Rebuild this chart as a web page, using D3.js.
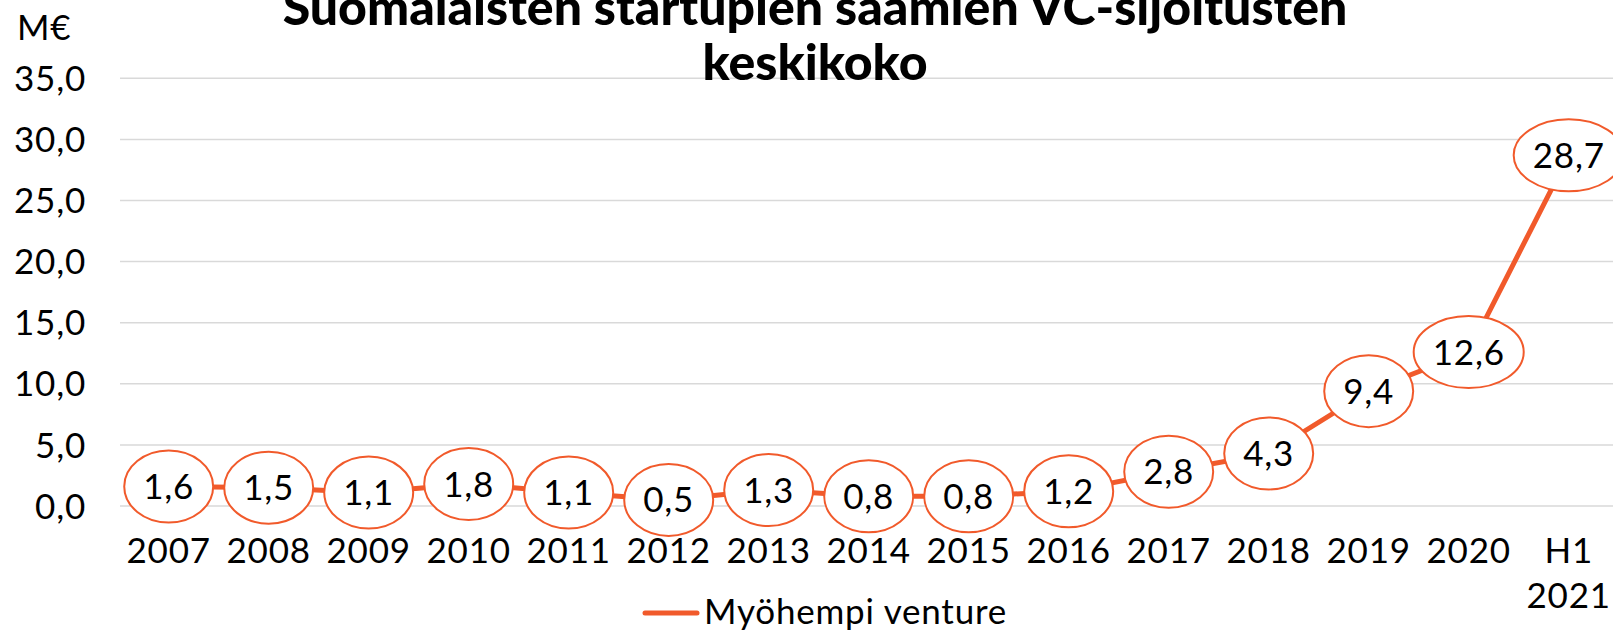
<!DOCTYPE html>
<html>
<head>
<meta charset="utf-8">
<script src="https://cdn.jsdelivr.net/npm/d3@7"></script>
<style>
  html, body { margin: 0; padding: 0; background: #fff; }
  svg { display: block; font-family: "Lato", "Open Sans", sans-serif; }
  .lbl { letter-spacing: 0.8px; }
</style>
</head>
<body>
<div id="chart"></div>
<script>
// Data
const categories = ["2007", "2008", "2009", "2010", "2011", "2012", "2013", "2014", "2015", "2016", "2017", "2018", "2019", "2020", "H1 2021"];
const values = [1.6, 1.5, 1.1, 1.8, 1.1, 0.5, 1.3, 0.8, 0.8, 1.2, 2.8, 4.3, 9.4, 12.6, 28.7];
const yTicks = [0, 5, 10, 15, 20, 25, 30, 35];
const titleLines = ["Suomalaisten startupien saamien VC-sijoitusten", "keskikoko"];
const seriesName = "Myöhempi venture";
const unitLabel = "M€";

const W = 1613, H = 631;
const color = "#f15a2b";
const fontSize = 35;

const svg = d3.select("#chart").append("svg")
    .attr("width", W)
    .attr("height", H);

// Scales
const x = d3.scaleBand()
    .domain(categories)
    .range([118.7, 1618.7]);

const y = d3.scaleLinear()
    .domain([0, 35])
    .range([506, 78.3]);

const fmt = v => d3.format(".1f")(v).replace(".", ",");

// Gridlines
svg.append("g")
    .selectAll("line")
    .data(yTicks)
    .join("line")
    .attr("x1", 120)
    .attr("x2", W)
    .attr("y1", d => y(d))
    .attr("y2", d => y(d))
    .attr("stroke", "#d9d9d9")
    .attr("stroke-width", 1.5);

// Y axis labels
svg.append("g")
    .selectAll("text")
    .data(yTicks)
    .join("text")
    .attr("class", "lbl")
    .attr("x", 86)
    .attr("y", d => y(d))
    .attr("dy", "0.36em")
    .attr("text-anchor", "end")
    .style("font-size", fontSize + "px")
    .attr("fill", "#000")
    .text(d => fmt(d));

svg.append("text")
    .attr("class", "lbl")
    .attr("x", 17)
    .attr("y", 40)
    .style("font-size", fontSize + "px")
    .text(unitLabel);

// X axis labels (wrap "H1 2021")
const xLabels = svg.append("g")
    .selectAll("text")
    .data(categories)
    .join("text")
    .attr("class", "lbl")
    .attr("text-anchor", "middle")
    .style("font-size", fontSize + "px")
    .attr("transform", d => `translate(${x(d) + x.bandwidth() / 2},563)`);

xLabels.each(function (d) {
    const parts = d.split(" ");
    d3.select(this).selectAll("tspan")
        .data(parts)
        .join("tspan")
        .attr("x", 0)
        .attr("y", (p, i) => i * 45)
        .text(p => p);
});

// Title
svg.append("text")
    .attr("text-anchor", "middle")
    .attr("transform", "translate(815,0)")
    .style("font-size", "50px")
    .style("font-weight", 900)
    .selectAll("tspan")
    .data(titleLines)
    .join("tspan")
    .attr("x", 0)
    .attr("y", (d, i) => 25 + i * 55)
    .text(d => d);

// Line
const line = d3.line()
    .x((d, i) => x(categories[i]) + x.bandwidth() / 2)
    .y(d => y(d));

svg.append("path")
    .datum(values)
    .attr("fill", "none")
    .attr("stroke", color)
    .attr("stroke-width", 5)
    .attr("d", line);

// Data labels in ellipses
const labels = svg.append("g")
    .selectAll("g")
    .data(values)
    .join("g")
    .attr("transform", (d, i) => `translate(${x(categories[i]) + x.bandwidth() / 2},${y(d)})`);

labels.append("ellipse")
    .attr("fill", "#fff")
    .attr("stroke", color)
    .attr("stroke-width", 2)
    .attr("ry", 36);

labels.append("text")
    .attr("class", "lbl")
    .attr("text-anchor", "middle")
    .attr("dy", "0.36em")
    .style("font-size", fontSize + "px")
    .text(d => fmt(d));

labels.each(function () {
    const g = d3.select(this);
    const w = g.select("text").node().getComputedTextLength();
    g.select("ellipse").attr("rx", w / 2 + 19);
});

// Legend
svg.append("line")
    .attr("x1", 645)
    .attr("x2", 697)
    .attr("y1", 613)
    .attr("y2", 613)
    .attr("stroke", color)
    .attr("stroke-width", 5)
    .attr("stroke-linecap", "round");

svg.append("text")
    .attr("class", "lbl")
    .attr("x", 704)
    .attr("y", 624)
    .style("font-size", fontSize + "px")
    .text(seriesName);
</script>
</body>
</html>
